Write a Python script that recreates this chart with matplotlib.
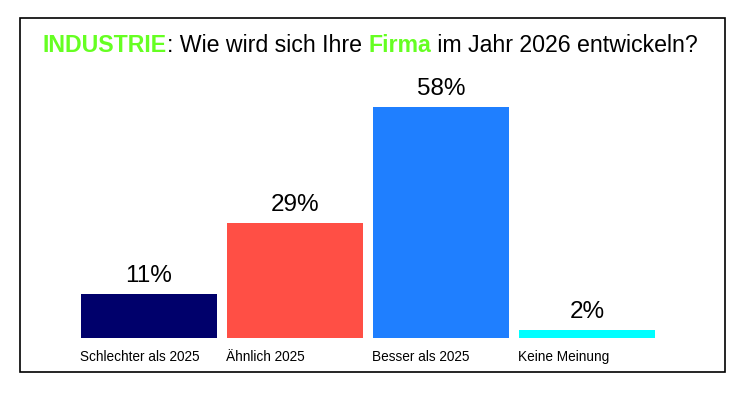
import matplotlib.pyplot as plt
from matplotlib.patches import Rectangle

plt.rcParams['font.family'] = ['Liberation Sans', 'DejaVu Sans']

# Daten
kategorien = ['Schlechter als 2025', 'Ähnlich 2025', 'Besser als 2025', 'Keine Meinung']
werte = [11, 29, 58, 2]
farben = ['#00006b', '#ff4f45', '#1f7fff', '#00ffff']

W, H = 748, 397
fig = plt.figure(figsize=(W / 100, H / 100), dpi=100)

# Rahmen
fig.patches.append(Rectangle((20 / W, 1 - 372 / H), 705 / W, 354 / H,
                             transform=fig.transFigure, fill=False,
                             edgecolor='black', linewidth=1.2))

ax = fig.add_axes([76 / W, 59 / H, 584 / W, 279 / H])
x = range(len(werte))
ax.bar(x, werte, width=0.925, color=farben)
ax.set_xlim(-0.5, 3.5)
ax.set_ylim(0, 279 / 3.98)
ax.axis('off')

for i, v in enumerate(werte):
    ax.annotate(f'{v}%', (i, v), xytext=(0, 5), textcoords='offset points',
                ha='center', va='bottom', fontsize=17.5)
    ax.annotate(kategorien[i], (i - 0.4625, 0), xytext=(-1, -14),
                textcoords='offset points', ha='left', va='center', fontsize=9.8)

# Titel aus mehreren Teilen
teile = [('INDUSTRIE', '#66ff22', 'bold'), (': Wie wird sich Ihre ', 'black', 'normal'),
         ('Firma', '#66ff22', 'bold'), (' im Jahr 2026 entwickeln?', 'black', 'normal')]
renderer = fig.canvas.get_renderer()
xpos = 43
for txt, col, fw in teile:
    t = fig.text(xpos / W, 1 - 46 / H, txt, color=col, fontweight=fw,
                 fontsize=16.7, ha='left', va='center')
    bb = t.get_window_extent(renderer=renderer)
    xpos += bb.width

fig.savefig('out.png', dpi=100)
